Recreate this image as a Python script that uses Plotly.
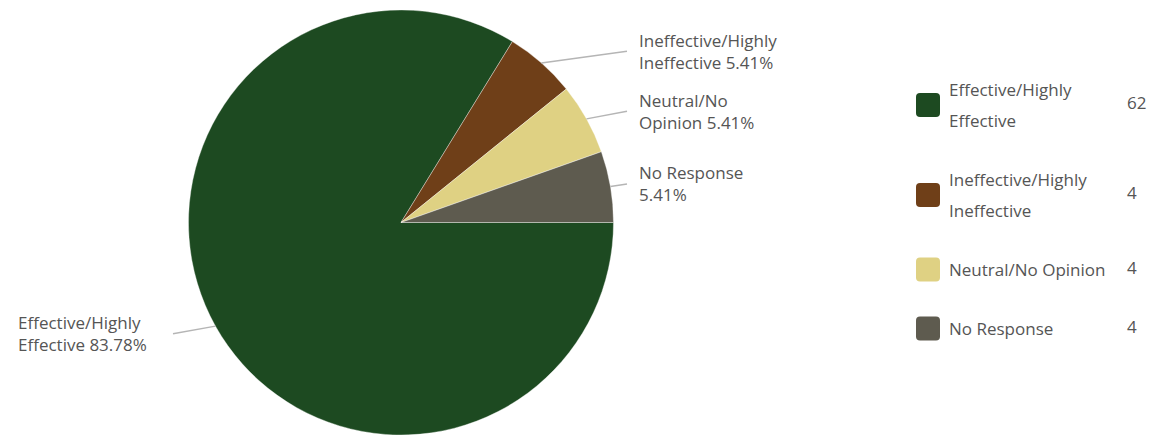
import math
import plotly.graph_objects as go

# ---- data ----
categories = ["Effective/Highly Effective", "Ineffective/Highly Ineffective",
              "Neutral/No Opinion", "No Response"]
counts = [62, 4, 4, 4]
chart_label_lines = [["Effective/Highly", "Effective"],
                     ["Ineffective/Highly", "Ineffective"],
                     ["Neutral/No", "Opinion"],
                     ["No Response", ""]]
legend_label_lines = [["Effective/Highly", "Effective"],
                      ["Ineffective/Highly", "Ineffective"],
                      ["Neutral/No Opinion"],
                      ["No Response"]]
colors = ["#1d4a21", "#6f3f18", "#dfd183", "#5e5b4f"]

# ---- layout constants (pixels) ----
W, H = 1156, 435
CX, CY, R = 401, 222.5, 212.5
FONT = "Open Sans"
FS = 17
TXT = "#555555"

def px(x):
    return x / W

def py(y):
    return 1 - y / H

fig = go.Figure(go.Pie(
    labels=categories, values=counts, sort=False,
    direction="clockwise", rotation=90,
    marker=dict(colors=colors, line=dict(color="rgba(255,255,255,0.6)", width=0.6)),
    textinfo="none", hoverinfo="label+value+percent",
    domain=dict(x=[px(CX - R), px(CX + R)], y=[0, py(CY - R)]),
    showlegend=False,
))

total = sum(counts)
annotations = []
shapes = []

# leader lines & slice labels
cum = 0.0
for i, v in enumerate(counts):
    frac = v / total
    mid = -(cum + frac / 2) * 360.0  # standard angle, deg
    cum += frac
    a = math.radians(mid)
    sx, sy = CX + R * math.cos(a), CY - R * math.sin(a)
    right = math.cos(a) >= 0
    ey = CY - 228 * math.sin(a)
    ex = CX + 226 if right else CX - 228
    shapes.append(dict(type="line", xref="paper", yref="paper",
                       x0=px(sx), y0=py(sy), x1=px(ex), y1=py(ey),
                       line=dict(color="#b5b5b5", width=1.5)))
    pct = f"{frac * 100:.2f}%"
    lines = list(chart_label_lines[i])
    if lines[-1]:
        lines[-1] = lines[-1] + " " + pct
    else:
        lines[-1] = pct
    tx = CX + 236 if right else CX - 385
    n = len(lines)
    for j, t in enumerate(lines):
        ly = ey + (j - (n - 1) / 2) * 22
        annotations.append(dict(x=px(tx), y=py(ly), xref="paper", yref="paper",
                                text=t, showarrow=False, xanchor="left", yanchor="middle",
                                font=dict(family=FONT, size=FS, color=TXT)))

# custom legend
LSP = 31
GAP = 28
cur = 105 - (len(legend_label_lines[0]) * LSP) / 2
for i, lines in enumerate(legend_label_lines):
    n = len(lines)
    cy = cur + n * LSP / 2
    cur = cur + n * LSP + GAP
    x0, x1 = 916, 940
    y0, y1 = cy - 12, cy + 12
    r = 4
    path = (f"M {px(x0 + r)},{py(y0)} L {px(x1 - r)},{py(y0)} "
            f"Q {px(x1)},{py(y0)} {px(x1)},{py(y0 + r)} L {px(x1)},{py(y1 - r)} "
            f"Q {px(x1)},{py(y1)} {px(x1 - r)},{py(y1)} L {px(x0 + r)},{py(y1)} "
            f"Q {px(x0)},{py(y1)} {px(x0)},{py(y1 - r)} L {px(x0)},{py(y0 + r)} "
            f"Q {px(x0)},{py(y0)} {px(x0 + r)},{py(y0)} Z")
    shapes.append(dict(type="path", xref="paper", yref="paper", path=path,
                       fillcolor=colors[i], line=dict(width=0)))
    for j, t in enumerate(lines):
        ly = cy + (j - (n - 1) / 2) * LSP
        annotations.append(dict(x=px(947), y=py(ly), xref="paper", yref="paper",
                                text=t, showarrow=False, xanchor="left", yanchor="middle",
                                font=dict(family=FONT, size=FS, color=TXT)))
    annotations.append(dict(x=px(1125), y=py(cy - 2), xref="paper", yref="paper",
                            text=str(counts[i]), showarrow=False, xanchor="left",
                            yanchor="middle",
                            font=dict(family=FONT, size=FS, color=TXT)))

fig.update_layout(
    width=W, height=H,
    margin=dict(l=0, r=0, t=0, b=0),
    paper_bgcolor="white", plot_bgcolor="white",
    annotations=annotations, shapes=shapes,
)
fig.write_html("out.html")
